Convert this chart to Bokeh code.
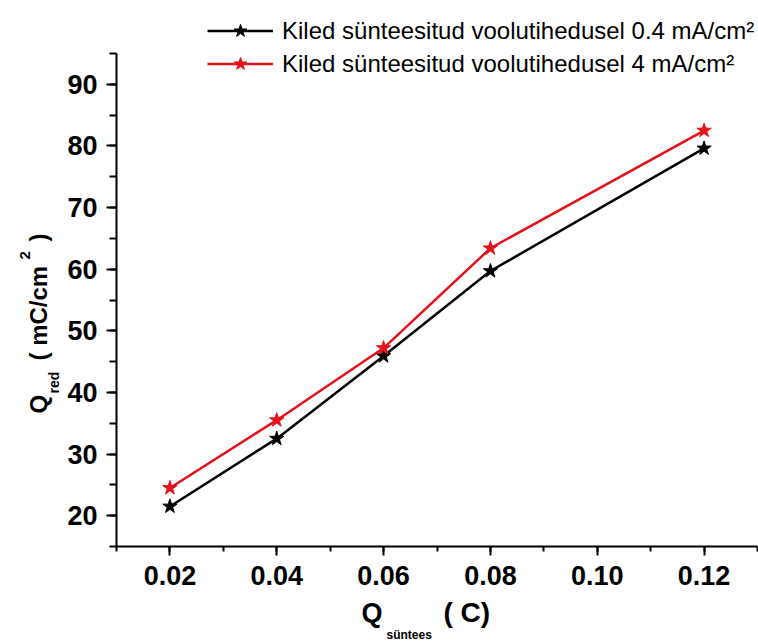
import math

from bokeh.embed import file_html
from bokeh.models import (ColumnDataSource, Label, Legend, LegendItem, LinearAxis,
                          Range1d, SingleIntervalTicker, NumeralTickFormatter)
from bokeh.plotting import figure
from bokeh.resources import INLINE

# Synthesis charge (C) and reduction charge (mC/cm^2) for the two film series
q_synthesis = [0.02, 0.04, 0.06, 0.08, 0.12]
q_red_low_current = [21.5, 32.5, 45.9, 59.7, 79.6]     # 0.4 mA/cm^2
q_red_high_current = [24.5, 35.5, 47.2, 63.4, 82.5]    # 4 mA/cm^2

series_labels = [
    "Kiled sünteesitud voolutihedusel 0.4 mA/cm²",
    "Kiled sünteesitud voolutihedusel 4 mA/cm²",
]
series_colors = ["#000000", "#e3121b"]

FONT = "Liberation Sans"
W, H = 758, 642

# visible axis extents and where they sit on the canvas (pixels from top-left)
x_lo, x_hi = 0.01, 0.13
y_lo, y_hi = 15, 95
px_left, px_right = 116, 757
px_top, px_bottom = 53, 546

# the frame fills the whole canvas; ranges are padded so the axes land
# at the pixel box above and the titles/legend have room around them
kx = (x_hi - x_lo) / (px_right - px_left)
ky = (y_hi - y_lo) / (px_bottom - px_top)
x_range = Range1d(x_lo - px_left * kx, x_hi + (W - px_right) * kx)
y_range = Range1d(y_lo - (H - px_bottom) * ky, y_hi + px_top * ky)

p = figure(
    width=W, height=H, x_range=x_range, y_range=y_range,
    x_axis_location=None, y_axis_location=None,
    output_backend="svg", toolbar_location=None,
    min_border=0,
)
p.outline_line_color = None
p.grid.visible = False
p.background_fill_color = "white"
p.border_fill_color = "white"

xaxis = LinearAxis(fixed_location=y_lo, bounds=(x_lo, x_hi),
                   ticker=SingleIntervalTicker(interval=0.02, num_minor_ticks=2),
                   formatter=NumeralTickFormatter(format="0.00"))
yaxis = LinearAxis(fixed_location=x_lo, bounds=(y_lo, y_hi),
                   ticker=SingleIntervalTicker(interval=10, num_minor_ticks=2))
for ax in (xaxis, yaxis):
    ax.axis_line_width = 2
    ax.axis_line_color = "black"
    ax.major_tick_line_width = 2
    ax.minor_tick_line_width = 2
    ax.major_tick_line_color = "black"
    ax.minor_tick_line_color = "black"
    ax.major_tick_in = 0
    ax.minor_tick_in = 0
    ax.major_label_text_font = FONT
    ax.major_label_text_font_style = "bold"
    ax.major_label_text_font_size = "27px"
    ax.major_label_text_color = "black"
yaxis.major_tick_out = 10
yaxis.minor_tick_out = 7
xaxis.major_tick_out = 9
xaxis.minor_tick_out = 5
yaxis.major_label_standoff = 9
xaxis.major_label_standoff = 10
p.add_layout(xaxis, "below")
p.add_layout(yaxis, "left")

renderers = []
for ys, color in zip([q_red_low_current, q_red_high_current], series_colors):
    src = ColumnDataSource(dict(x=q_synthesis, y=ys))
    ln = p.line("x", "y", source=src, line_color=color, line_width=2.5)
    st = p.scatter("x", "y", source=src, marker="star", size=15,
                   fill_color=color, line_color=color, line_width=1)
    renderers.append([ln, st])

legend = Legend(
    items=[LegendItem(label=lab, renderers=r) for lab, r in zip(series_labels, renderers)],
    location=(207, 562),
    label_text_font=FONT, label_text_font_size="24px", label_text_color="black",
    glyph_width=66, glyph_height=33, label_height=33, label_standoff=9,
    spacing=0, padding=0, margin=0,
    border_line_color=None, background_fill_alpha=0,
)
p.add_layout(legend, "center")

# axis titles assembled from pieces so the sub/superscripts sit correctly
def piece(text, x, y, size, angle=0.0):
    p.add_layout(Label(
        x=x, y=y, x_units="screen", y_units="screen", text=text, angle=angle,
        text_font=FONT, text_font_style="bold", text_font_size=size,
        text_color="black", text_align="left", text_baseline="alphabetic",
    ))

# x title: Q_süntees ( C)
piece("Q", 361, 30, "27px")
piece("süntees", 386, 8, "12px")
piece("( C)", 443, 30, "28px")

# y title: Q_red ( mC/cm^2)
up = math.pi / 2
piece("Q", 38, 229, "24px", up)
piece("red", 53, 249, "14px", up)
piece("( mC/cm", 38, 282, "24px", up)
piece("2", 24, 383, "15px", up)
piece(")", 38, 401, "24px", up)

open("out.html", "w").write(file_html(p, INLINE))
